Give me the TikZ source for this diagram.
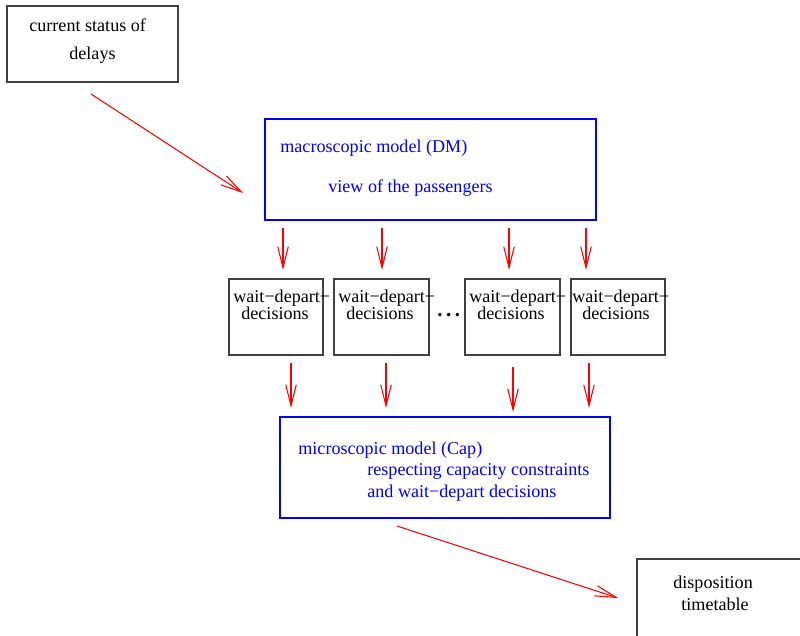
\documentclass[tikz,border=0pt]{standalone}
\usepackage{fontspec}
\setmainfont{Liberation Serif}
\usetikzlibrary{arrows.meta, positioning, fit}

\begin{document}
\begin{tikzpicture}[x=0.02cm, y=-0.02cm, font=\fontsize{10.3}{12}\selectfont]
\tikzset{
  plainbox/.style={draw=black!75, line width=0.6pt, inner sep=0pt},
  modelbox/.style={draw=blue, line width=1.6pt, inner sep=0pt},
  txt/.style={anchor=base west, inner sep=0pt},
  bluetxt/.style={txt, text=blue},
  flow/.style={draw=red, line width=0.6pt, -{Straight Barb[length=12pt,width=6pt]}}
}
\useasboundingbox (0,0) rectangle (800,635);

\node[plainbox, fit={(7,6) (178,82)}] (status) {};
\node[txt] (status1) at (29,32) {current status of};
\node[txt] (status2) at (69,60) {delays};

\node[modelbox, fit={(265,119) (596,220)}] (macro) {};
\node[bluetxt] (macro1) at (280,152) {macroscopic model (DM)};
\node[bluetxt] (macro2) at (328,192) {view of the passengers};

\node[plainbox, fit={(229,279) (323,355)}] (dec1) {};
\node[plainbox, fit={(334,279) (429,355)}] (dec2) {};
\node[plainbox, fit={(465,279) (560,355)}] (dec3) {};
\node[plainbox, fit={(571,279) (665,355)}] (dec4) {};
\node[txt] (w1) at (233,302) {wait−depart−};
\node[txt] (d1) at (241,319) {decisions};
\node[txt] (w2) at (338,302) {wait−depart−};
\node[txt] (d2) at (346,319) {decisions};
\node[txt] (w3) at (469,302) {wait−depart−};
\node[txt] (d3) at (477,319) {decisions};
\node[txt] (w4) at (572,302) {wait−depart−};
\node[txt] (d4) at (582,319) {decisions};
\node[txt, font=\fontsize{12}{14}\selectfont\bfseries] (dots) at (437,316.5) {.\kern2pt.\kern2pt.};

\node[modelbox, fit={(280,417) (610,518)}] (micro) {};
\node[bluetxt] (micro1) at (298,454) {microscopic model (Cap)};
\node[bluetxt] (micro2) at (367,475) {respecting capacity constraints};
\node[bluetxt] (micro3) at (367,497) {and wait−depart decisions};

\node[plainbox, fit={(637,559) (806,640)}] (dispo) {};
\node[txt] (dispo1) at (673,588) {disposition};
\node[txt] (dispo2) at (681,610) {timetable};

% arrow ends
\coordinate (s0) at (91,94);
\coordinate (s1) at (243,193);
\coordinate (a1) at (283,228); \coordinate (b1) at (283,270);
\coordinate (a2) at (382,228); \coordinate (b2) at (382,270);
\coordinate (a3) at (509,228); \coordinate (b3) at (509,270);
\coordinate (a4) at (586,228); \coordinate (b4) at (586,270);
\coordinate (c1) at (291,363); \coordinate (e1) at (291,408);
\coordinate (c2) at (386,363); \coordinate (e2) at (386,408);
\coordinate (c3) at (513,367); \coordinate (e3) at (513,412);
\coordinate (c4) at (589,363); \coordinate (e4) at (589,408);
\coordinate (m0) at (397,526);
\coordinate (m1) at (618,598);

\draw[flow] (s0) -- (s1);
\foreach \i in {1,...,4} {
  \draw[flow] (a\i) -- (b\i);
  \draw[flow] (c\i) -- (e\i);
}
\draw[flow] (m0) -- (m1);
\end{tikzpicture}
\end{document}
